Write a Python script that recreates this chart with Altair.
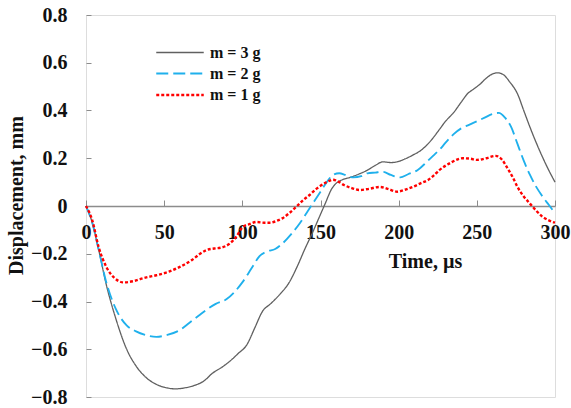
import altair as alt
import pandas as pd

# m = 3 g
t3 = [0, 4, 8, 13, 19, 26, 32, 38, 46, 52, 57, 63, 70, 75, 81, 87, 92, 97, 103, 108,
      113, 118, 124, 130, 135, 140, 145, 149, 153, 157, 160, 164, 169, 175, 180, 185, 190,
      195, 199, 204, 209, 214, 218, 222, 226, 230, 235, 240, 244, 248, 252, 256, 260,
      263, 267, 271, 276, 280, 284, 288, 292, 296, 300]
v3 = [0, -0.07, -0.18, -0.33, -0.47, -0.60, -0.67, -0.716, -0.75, -0.762, -0.766, -0.762,
      -0.75, -0.735, -0.70, -0.675, -0.65, -0.62, -0.58, -0.51, -0.44, -0.41, -0.37,
      -0.32, -0.255, -0.18, -0.11, -0.05, 0.01, 0.07, 0.095, 0.11, 0.12, 0.135, 0.15, 0.17,
      0.185, 0.182, 0.185, 0.197, 0.213, 0.232, 0.255, 0.285, 0.32, 0.355, 0.39, 0.435,
      0.47, 0.49, 0.51, 0.535, 0.553, 0.558, 0.55, 0.52, 0.47, 0.40, 0.33, 0.265, 0.205,
      0.15, 0.10]

# m = 2 g
t2 = [0, 4, 8, 13, 19, 26, 32, 38, 45, 52, 60, 66, 72, 77, 83, 90, 95, 100, 106, 111,
      116, 121, 126, 131, 137, 142, 146, 150, 154, 158, 162, 166, 171, 176, 180, 185,
      190, 195, 201, 206, 212, 218, 222, 226, 230, 235, 240, 245, 250, 255, 260, 264,
      268, 272, 276, 280, 284, 288, 292, 296, 300]
v2 = [0, -0.07, -0.18, -0.32, -0.43, -0.50, -0.525, -0.54, -0.548, -0.54, -0.52, -0.49,
      -0.46, -0.435, -0.41, -0.39, -0.36, -0.32, -0.26, -0.21, -0.19, -0.18, -0.155,
      -0.12, -0.07, -0.02, 0.02, 0.06, 0.10, 0.13, 0.137, 0.13, 0.12, 0.125, 0.137,
      0.14, 0.143, 0.13, 0.12, 0.133, 0.15, 0.185, 0.21, 0.235, 0.265, 0.30, 0.325,
      0.34, 0.355, 0.37, 0.385, 0.39, 0.37, 0.33, 0.26, 0.19, 0.13, 0.08, 0.04, 0.005,
      -0.03]

# m = 1 g
t1 = [0, 4, 8, 13, 18, 24, 30, 38, 45, 53, 60, 68, 73, 77, 82, 86, 92, 96, 100, 105,
      109, 114, 118, 122, 126, 130, 135, 139, 143, 148, 154, 158, 162, 165, 170, 175,
      181, 188, 193, 199, 204, 209, 214, 219, 222, 226, 233, 241, 246, 250, 256, 262,
      266, 269, 273, 276, 280, 284, 288, 292, 296, 300]
v1 = [0, -0.06, -0.17, -0.255, -0.30, -0.32, -0.315, -0.30, -0.29, -0.275, -0.255,
      -0.225, -0.20, -0.185, -0.178, -0.175, -0.157, -0.13, -0.09, -0.075, -0.067,
      -0.07, -0.07, -0.062, -0.05, -0.03, 0.00, 0.025, 0.046, 0.075, 0.10, 0.11, 0.10,
      0.088, 0.075, 0.067, 0.072, 0.08, 0.072, 0.06, 0.068, 0.08, 0.095, 0.11, 0.125,
      0.15, 0.18, 0.20, 0.198, 0.193, 0.20, 0.21, 0.195, 0.165, 0.12, 0.08, 0.04, 0.01,
      -0.02, -0.045, -0.06, -0.07]

series = ["m = 3 g", "m = 2 g", "m = 1 g"]
colors = ["#606060", "#1FB0EC", "#FF0000"]
dashes = [[1, 0], [12, 5], [3, 2]]
widths = [1.3, 2.4, 2.2]

x_ticks = [0, 50, 100, 150, 200, 250, 300]
y_ticks = [-0.8, -0.6, -0.4, -0.2, 0, 0.2, 0.4, 0.6, 0.8]

rows = []
for name, ts, vs in zip(series, [t3, t2, t1], [v3, v2, v1]):
    for t, v in zip(ts, vs):
        rows.append({"series": name, "t": t, "v": v})
df = pd.DataFrame(rows)

FONT = "Liberation Serif"
AX = "#8C8C8C"

xscale = alt.Scale(domain=[0, 300], nice=False, zero=False)
yscale = alt.Scale(domain=[-0.8, 0.8], nice=False)


def make_legend():
    return alt.Legend(title=None, orient="none", legendX=83, legendY=27,
                      symbolType="M-2.5,0H2.5", symbolSize=361,
                      symbolStrokeWidth=1.8, rowPadding=2,
                      labelFont=FONT, labelFontSize=16,
                      labelFontWeight="bold", labelColor="#111",
                      labelOffset=19, padding=0)


color = alt.Color("series:N", scale=alt.Scale(domain=series, range=colors),
                  legend=make_legend())
dash = alt.StrokeDash("series:N", scale=alt.Scale(domain=series, range=dashes),
                      legend=make_legend())
width = alt.StrokeWidth("series:N", scale=alt.Scale(domain=series, range=widths),
                        legend=None)

lines = alt.Chart(df).mark_line(interpolate="monotone").encode(
    x=alt.X("t:Q", scale=xscale,
            axis=alt.Axis(orient="bottom", offset=-191, values=x_ticks, ticks=False,
                          tickSize=0, domain=False, grid=False, labelPadding=16,
                          labelFont=FONT, labelFontSize=20, labelFontWeight="bold",
                          labelColor="#111", title="Time, µs", titleFont=FONT,
                          titleFontSize=20, titleFontWeight="bold", titleColor="#111",
                          titleX=339, titleY=45, titleAnchor="middle",
                          labelFlush=False, labelOverlap=False)),
    y=alt.Y("v:Q", scale=yscale,
            axis=alt.Axis(orient="left", values=y_ticks, ticks=False, tickSize=0,
                          domain=False, grid=False, labelPadding=19, labelFont=FONT,
                          labelFontSize=20, labelFontWeight="bold", labelColor="#111",
                          format="~g", title="Displacement, mm", titleFont=FONT,
                          titleFontSize=20, titleFontWeight="bold", titleColor="#111",
                          titleX=-60, titleY=180, labelOverlap=False,
                          labelFlush=False)),
    color=color,
    strokeDash=dash,
    strokeWidth=width,
    detail="series:N",
)

ticks = alt.Chart(df).mark_line(opacity=0).encode(
    x=alt.X("t:Q", scale=xscale,
            axis=alt.Axis(orient="top", offset=-191, values=x_ticks, labels=False,
                          ticks=True, tickSize=6, tickColor=AX, domain=True,
                          domainColor=AX, domainWidth=1.3, grid=False, title=None)),
    y=alt.Y("v:Q", scale=yscale,
            axis=alt.Axis(orient="right", offset=-469, values=y_ticks, labels=False,
                          ticks=True, tickSize=5, tickColor=AX, domain=False,
                          grid=False, title=None)),
    detail="series:N",
)

chart = alt.layer(ticks, lines).resolve_axis(x="independent", y="independent").properties(
    width=469, height=382,
    autosize=alt.AutoSizeParams(type="none"),
    padding={"left": 86, "top": 15, "right": 16, "bottom": 11},
).configure_view(stroke=AX, strokeWidth=1.5).configure(background="white")

chart.save("out.html", embed_options={"renderer": "svg", "actions": False})
